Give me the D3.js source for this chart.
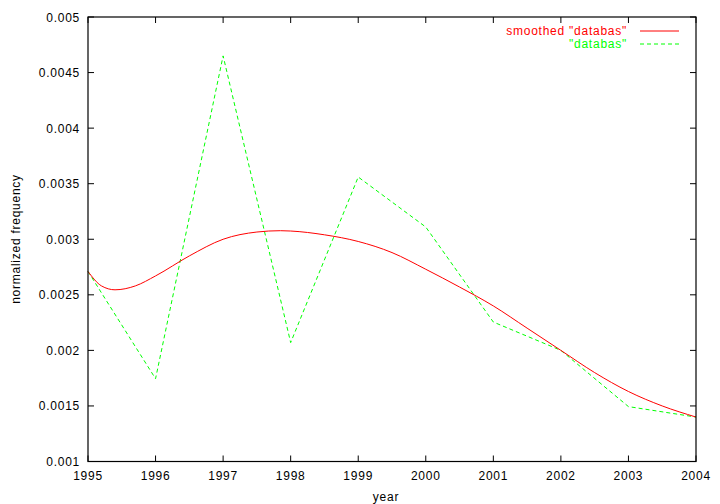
<!DOCTYPE html>
<html><head><meta charset="utf-8">
<script src="https://cdn.jsdelivr.net/npm/d3@7"></script>
<style>body{margin:0;background:#fff}svg{display:block}text{font-family:"Liberation Sans",Arial,sans-serif;font-size:12px;letter-spacing:0.75px}</style>
</head><body><svg id="c" width="720" height="504"></svg>
<script>
const years = [1995,1996,1997,1998,1999,2000,2001,2002,2003,2004];
const rawValues = [0.00271,0.001745,0.00465,0.00207,0.00356,0.00311,0.002255,0.002,0.001494,0.0014];
const smoothX = [1995,1995.2,1995.4,1995.7,1996,1996.5,1997,1997.5,1997.85,1998,1998.5,1999,1999.5,2000,2000.5,2001,2001.5,2002,2002.5,2003,2003.5,2004];
const smoothY = [0.00271,0.00258,0.002545,0.00258,0.00267,0.00285,0.003,0.003065,0.003077,0.003074,0.00304,0.00298,0.00288,0.00273,0.00257,0.0024,0.0022,0.002,0.0018,0.00163,0.0015,0.0014];
const xTicks = [1995,1996,1997,1998,1999,2000,2001,2002,2003,2004];
const yTicks = [0.001,0.0015,0.002,0.0025,0.003,0.0035,0.004,0.0045,0.005];
const yTickLabels = ["0.001","0.0015","0.002","0.0025","0.003","0.0035","0.004","0.0045","0.005"];
const seriesNames = ['smoothed "databas"','"databas"'];

const svg = d3.select("#c");
const L=88, R=696, T=17, B=461.5;
const x = d3.scaleLinear().domain([1995,2004]).range([L,R]);
const y = d3.scaleLinear().domain([0.001,0.005]).range([B,T]);

const g = svg.append("g");
const tl=6;
xTicks.forEach(v=>{
  g.append("line").attr("x1",x(v)).attr("x2",x(v)).attr("y1",B).attr("y2",B-tl).attr("stroke","#000");
  g.append("line").attr("x1",x(v)).attr("x2",x(v)).attr("y1",T).attr("y2",T+tl).attr("stroke","#000");
  g.append("text").attr("x",x(v)).attr("y",B+18).attr("text-anchor","middle").text(v);
});
yTicks.forEach((v,i)=>{
  g.append("line").attr("x1",L).attr("x2",L+tl).attr("y1",y(v)).attr("y2",y(v)).attr("stroke","#000");
  g.append("line").attr("x1",R).attr("x2",R-tl).attr("y1",y(v)).attr("y2",y(v)).attr("stroke","#000");
  g.append("text").attr("x",80).attr("y",y(v)+4.5).attr("text-anchor","end").text(yTickLabels[i]);
});

const line = d3.line().x(d=>x(d[0])).y(d=>y(d[1]));
svg.append("path").datum(years.map((v,i)=>[v,rawValues[i]]))
  .attr("d",line).attr("fill","none").attr("stroke","#00ff00").attr("stroke-width",1).attr("stroke-dasharray","4,3");
svg.append("path").datum(smoothX.map((v,i)=>[v,smoothY[i]]))
  .attr("d",line.curve(d3.curveMonotoneX)).attr("fill","none").attr("stroke","#ff0000").attr("stroke-width",1);

svg.append("rect").attr("x",L).attr("y",T).attr("width",R-L).attr("height",B-T).attr("fill","none").attr("stroke","#000").attr("stroke-width",1.2);

const colors=["#ff0000","#00ff00"];
seriesNames.forEach((n,i)=>{
  const yy = 31 + i*13;
  svg.append("text").attr("x",627).attr("y",yy+4).attr("text-anchor","end").attr("fill",colors[i]).text(n);
  svg.append("line").attr("x1",640).attr("x2",679).attr("y1",yy).attr("y2",yy).attr("stroke",colors[i])
    .attr("stroke-dasharray",i?"4,3":null);
});

svg.append("text").attr("x",386).attr("y",501).attr("text-anchor","middle").text("year");
svg.append("text").attr("transform","translate(20,239) rotate(-90)").attr("text-anchor","middle").text("normalized frequency");
</script></body></html>
